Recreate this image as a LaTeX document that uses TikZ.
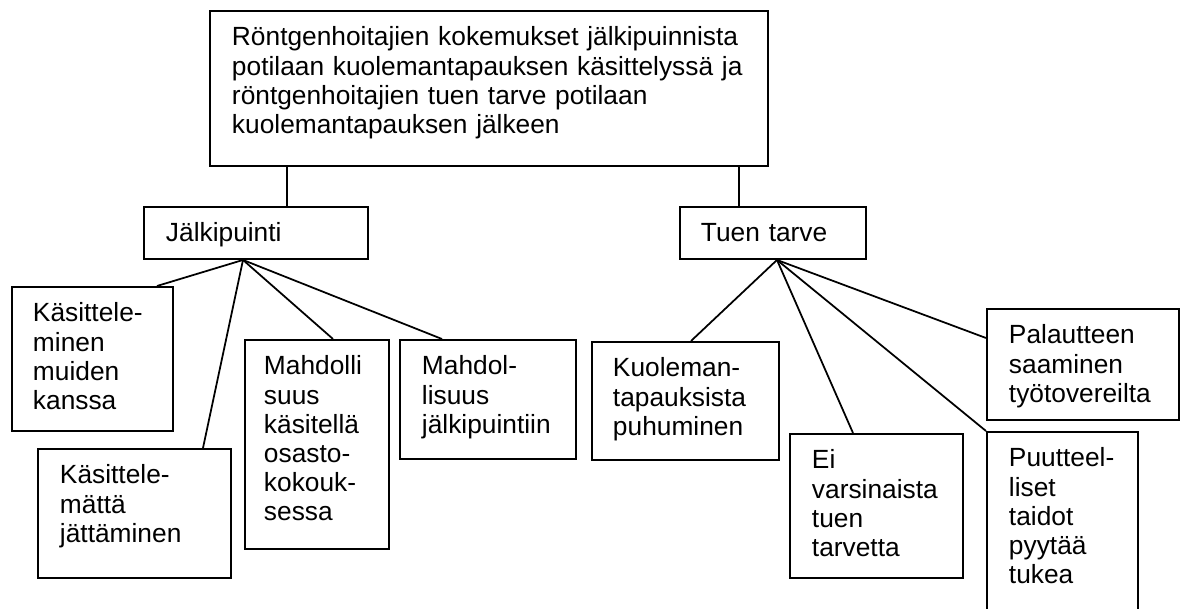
\documentclass[tikz,border=0pt]{standalone}
\usepackage{fontspec}
\setmainfont{Liberation Sans}
\newdimen\px
\px=0.456pt
\hyphenpenalty=10000
\begin{document}
\begin{tikzpicture}[x=0.456pt, y=-0.456pt,
        box/.style 2 args={draw, line width=0.9pt, anchor=north west, align=left,
            inner ysep=0pt, text height=35\px, text width=#1\px, text depth=#2\px,
            font=\fontsize{12}{13.27}\selectfont},
        link/.style={line width=0.8pt}]
            \useasboundingbox (0,0) rectangle (1181,609);
            \node[box={514}{120}, inner xsep=22\px] (top) at (209,10) {Röntgenhoitajien kokemukset jälkipuinnista\\potilaan kuolemantapauksen käsittelyssä ja\\röntgenhoitajien tuen tarve potilaan\\kuolemantapauksen jälkeen};
            \node[box={180}{17}, inner xsep=22\px] (jalki) at (143,206) {Jälkipuinti};
            \node[box={144}{17}, inner xsep=21\px] (tuen) at (679,206) {Tuen tarve};
            \node[box={119}{109}, inner xsep=21\px] (muiden) at (11,286) {Käsittele-\\minen\\muiden\\kanssa};
            \node[box={149}{94}, inner xsep=22\px] (jattaminen) at (37,448) {Käsittele-\\mättä\\jättäminen};
            \node[box={106}{174}, inner xsep=19\px] (osasto) at (244,339) {Mahdolli\\suus\\käsitellä\\osasto-\\kokouk-\\sessa};
            \node[box={132}{84}, inner xsep=22\px] (mahdol) at (399,339) {Mahdol-\\lisuus\\jälkipuintiin};
            \node[box={145}{83}, inner xsep=21\px] (puhuminen) at (591,341) {Kuoleman-\\tapauksista\\puhuminen};
            \node[box={129}{109}, inner xsep=22\px] (eitarve) at (789,433) {Ei\\varsinaista\\tuen\\tarvetta};
            \node[box={107}{165}, inner xsep=22\px] (taidot) at (986,431) {Puutteel-\\liset\\taidot\\pyytää\\tukea};
            \node[box={148}{76}, inner xsep=22\px] (palaute) at (986,308) {Palautteen\\saaminen\\työtovereilta};
            \coordinate (ja) at ([xshift=100\px]jalki.south west);
            \coordinate (tt) at ([xshift=98\px]tuen.south west);
            \draw[link] ([xshift=78\px]top.south west) -- ([xshift=78\px]top.south west |- jalki.north);
            \draw[link] ([xshift=530\px]top.south west) -- ([xshift=530\px]top.south west |- tuen.north);
            \draw[link] (ja) -- ([xshift=146\px]muiden.north west);
            \draw[link] (ja) -- ([xshift=166\px]jattaminen.north west);
            \draw[link] (ja) -- ([xshift=89\px]osasto.north west);
            \draw[link] (ja) -- ([xshift=43\px]mahdol.north west);
            \draw[link] (tt) -- ([xshift=100\px]puhuminen.north west);
            \draw[link] (tt) -- ([xshift=64\px]eitarve.north west);
            \draw[link] (tt) -- (taidot.north west);
            \draw[link] (tt) -- ([yshift=-30\px]palaute.north west);
        \end{tikzpicture}
\end{document}
